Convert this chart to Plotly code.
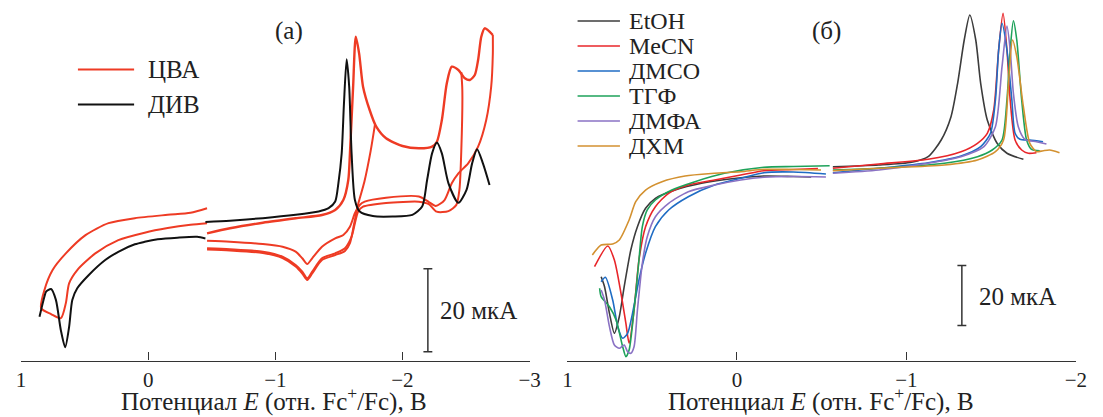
import plotly.graph_objects as go

W, H = 1103, 417

# ---------------- Panel (а): ЦВА / ДИВ ----------------
dpv_low_E = [0.855, 0.816, 0.803, 0.764, 0.726, 0.687, 0.653, 0.622, 0.597, 0.558, 0.467, 0.338,
             0.235, 0.105, 0.028, -0.075, -0.230, -0.385, -0.450]
dpv_low_I = [10.55, 15.4, 16.6, 17.23, 14.6, 7.3, 3.18, 8.1, 14.58, 17.4, 20.6, 24.2,
             26.2, 28.0, 28.6, 29.2, 29.6, 29.8, 29.4]

dpv_high_E = [-0.450, -0.643, -0.902, -1.160, -1.341, -1.419, -1.471, -1.496, -1.522, -1.540, -1.561,
              -1.581, -1.600, -1.626, -1.664, -1.767, -1.922, -2.078, -2.155, -2.194, -2.233, -2.271,
              -2.310, -2.362, -2.440, -2.504, -2.548, -2.587, -2.633, -2.685]
dpv_high_I = [33.4, 33.7, 34.3, 35.1, 35.9, 36.7, 38.3, 42.7, 49.9, 62.0, 72.6,
              66.0, 49.9, 38.7, 35.9, 34.8, 34.7, 35.1, 37.1, 43.5, 49.9, 52.5,
              49.9, 42.7, 38.0, 41.1, 47.5, 50.9, 47.5, 42.3]

cv_low_E = [-0.463, -0.333, -0.153, 0.105, 0.312, 0.493, 0.648, 0.752, 0.816, 0.842, 0.764, 0.687,
            0.648, 0.622, 0.558, 0.416, 0.235, 0.028, -0.153, -0.333, -0.463]
cv_low_I = [36.7, 35.6, 35.1, 34.3, 33.1, 30.2, 25.8, 21.8, 17.0, 12.6, 11.2, 10.2,
            13.8, 18.6, 21.8, 25.8, 29.0, 30.8, 31.9, 32.7, 33.1]

cv_fwd_E = [-0.463, -0.643, -0.902, -1.160, -1.367, -1.471, -1.535, -1.574, -1.587, -1.612, -1.633,
            -1.659, -1.690, -1.742, -1.794, -1.871, -2.0, -2.129, -2.233, -2.271, -2.310, -2.349,
            -2.388, -2.440, -2.491, -2.530, -2.569, -2.595, -2.620, -2.647, -2.711]
cv_fwd_I = [30.65, 31.86, 33.2, 34.27, 35.06, 36.27, 38.67, 43.5, 49.93, 65.98, 78.02,
            74.02, 65.98, 60.36, 56.34, 53.54, 51.69, 51.13, 51.52, 52.72, 57.95, 66.8,
            70.8, 70.0, 68.0, 67.6, 68.8, 72.4, 78.0, 80.05, 78.43]

cv_rev3_E = [-2.711, -2.711, -2.698, -2.659, -2.595, -2.517, -2.440, -2.388, -2.331, -2.262, -2.208,
             -2.129, -1.871, -1.703, -1.664, -1.626, -1.587, -1.535, -1.471, -1.367, -1.290, -1.251,
             -1.212, -1.160, -1.057, -0.902, -0.643, -0.463]
cv_rev3_I = [78.43, 74.0, 65.98, 57.95, 51.52, 47.52, 45.1, 42.7, 38.67, 37.23, 38.19,
             39.52, 39.23, 38.27, 37.47, 35.47, 32.24, 30.24, 29.45, 27.42, 24.63, 23.25,
             24.63, 26.22, 27.42, 28.07, 28.63, 28.87]

cv_rev2_E = [-2.463, -2.471, -2.463, -2.448, -2.424, -2.362, -2.269, -2.207, -2.129, -1.871, -1.690,
             -1.651, -1.626, -1.600, -1.548, -1.471, -1.367, -1.290, -1.251, -1.212, -1.160, -1.057,
             -0.902, -0.643, -0.463]
cv_rev2_I = [69.5, 65.2, 50.7, 41.1, 37.5, 36.0, 35.86, 37.7, 38.27, 37.95, 37.06,
             35.86, 33.06, 29.83, 27.04, 25.83, 24.63, 21.4, 19.81, 21.4, 23.01, 25.01,
             26.22, 26.8, 27.04]

cv_rev1_E = [-1.783, -1.750, -1.700, -1.650, -1.618, -1.587, -1.548, -1.471, -1.367, -1.290, -1.251,
             -1.212, -1.160, -1.057, -0.902, -0.643, -0.463]
cv_rev1_I = [56.7, 50.5, 43.0, 37.5, 32.65, 28.3, 26.4, 25.4, 24.2, 20.96, 19.4,
             20.96, 22.65, 24.7, 25.9, 26.5, 26.75]

# ---------------- Panel (б): solvents ----------------
solvents = ["EtOH", "MeCN", "ДМСО", "ТГФ", "ДМФА", "ДХМ"]
solvent_colors = ["#3c3c3c", "#e8262a", "#1f6cc4", "#1ea25a", "#8a72c4", "#d39130"]

etoh_low_E = [0.801, 0.781, 0.752, 0.723, 0.694, 0.665, 0.626, 0.587, 0.539, 0.481, 0.365, 0.209,
              0.055, -0.159, -0.333, -0.438]
etoh_low_I = [27.93, 24.6, 15.73, 9.07, 14.6, 24.6, 36.83, 44.6, 50.73, 54.07, 56.83, 59.07,
              60.4, 61.5, 61.33, 61.17]
etoh_high_E = [-0.566, -0.837, -1.031, -1.128, -1.205, -1.263, -1.302, -1.341, -1.374, -1.409, -1.438,
               -1.477, -1.535, -1.593, -1.690]
etoh_high_I = [64.6, 65.17, 66.07, 67.93, 73.5, 81.27, 92.4, 106.83, 115.17, 106.83, 92.4,
               80.17, 72.4, 69.07, 67.07]

mecn_low_E = [0.840, 0.762, 0.723, 0.684, 0.655, 0.636, 0.607, 0.578, 0.539, 0.481, 0.403, 0.287,
              0.132, -0.023, -0.159, -0.333, -0.478]
mecn_low_I = [31.27, 38.17, 33.5, 22.4, 12.4, 5.73, 16.83, 33.5, 44.6, 51.27, 55.73, 58.5,
              60.17, 61.83, 63.27, 63.67, 64.0]
mecn_high_E = [-0.566, -0.837, -1.128, -1.322, -1.419, -1.477, -1.515, -1.544, -1.570, -1.593, -1.612,
               -1.641, -1.680, -1.719, -1.767]
mecn_high_I = [64.07, 65.5, 67.07, 69.6, 72.4, 75.73, 83.5, 103.5, 115.73, 103.5, 86.83,
               73.5, 70.17, 69.07, 69.27]

dmso_low_E = [0.801, 0.776, 0.733, 0.703, 0.674, 0.645, 0.616, 0.578, 0.539, 0.481, 0.403, 0.287,
              0.132, -0.023, -0.159, -0.333, -0.525]
dmso_low_I = [26.27, 27.73, 20.17, 11.27, 7.4, 9.07, 15.73, 26.83, 35.73, 44.6, 50.17, 54.6,
              58.5, 60.73, 62.6, 62.83, 62.17]
dmso_high_E = [-0.566, -0.837, -1.128, -1.322, -1.438, -1.496, -1.525, -1.544, -1.564, -1.593, -1.622,
               -1.641, -1.670, -1.728, -1.806]
dmso_high_I = [62.6, 64.07, 65.93, 68.17, 71.27, 75.73, 86.83, 103.5, 112.4, 103.5, 86.83,
               75.73, 73.73, 73.5, 72.93]

thf_low_E = [0.810, 0.801, 0.752, 0.713, 0.674, 0.655, 0.636, 0.607, 0.578, 0.558, 0.529, 0.481,
             0.384, 0.248, 0.074, -0.159, -0.333, -0.547]
thf_low_I = [24.07, 21.27, 17.93, 13.5, 4.6, 1.27, 3.5, 16.83, 33.5, 44.6, 50.17, 53.5,
             56.83, 59.6, 62.4, 64.4, 64.67, 64.93]
thf_high_E = [-0.566, -0.837, -1.224, -1.419, -1.506, -1.564, -1.593, -1.612, -1.631, -1.651, -1.680,
              -1.709, -1.738, -1.787]
thf_high_I = [63.5, 64.07, 65.73, 67.93, 70.17, 73.5, 86.83, 103.5, 113.27, 106.83, 86.83,
              73.5, 70.4, 69.93]

dmf_low_E = [0.801, 0.781, 0.752, 0.723, 0.694, 0.665, 0.645, 0.626, 0.607, 0.587, 0.558, 0.529,
             0.481, 0.403, 0.287, 0.132, -0.023, -0.159, -0.333, -0.525]
dmf_low_I = [23.5, 20.17, 11.27, 5.17, 4.07, 5.17, 2.93, 2.4, 4.6, 16.83, 32.4, 41.27,
             47.93, 52.4, 56.27, 58.5, 60.17, 61.07, 61.33, 61.17]
dmf_high_E = [-0.566, -0.837, -1.128, -1.322, -1.457, -1.525, -1.564, -1.593, -1.612, -1.631, -1.660,
              -1.699, -1.767, -1.826]
dmf_high_I = [62.4, 63.5, 65.73, 67.93, 71.27, 77.93, 97.93, 111.5, 103.5, 89.07, 77.93,
              73.73, 72.93, 72.17]

dcm_low_E = [0.853, 0.801, 0.733, 0.694, 0.636, 0.597, 0.539, 0.442, 0.306, 0.132, -0.023, -0.159,
             -0.333, -0.496]
dcm_low_I = [35.17, 38.5, 38.83, 40.17, 46.83, 52.93, 56.83, 59.6, 61.5, 62.4, 62.93, 63.73,
             63.67, 63.5]
dcm_high_E = [-0.566, -0.837, -1.224, -1.419, -1.525, -1.573, -1.602, -1.626, -1.651, -1.690, -1.728,
              -1.767, -1.806, -1.845, -1.903]
dcm_high_I = [63.27, 64.07, 65.17, 66.83, 69.6, 73.5, 92.4, 106.83, 101.27, 84.6, 72.4,
              69.6, 69.93, 70.17, 69.27]

solvent_low = [(etoh_low_E, etoh_low_I), (mecn_low_E, mecn_low_I), (dmso_low_E, dmso_low_I),
               (thf_low_E, thf_low_I), (dmf_low_E, dmf_low_I), (dcm_low_E, dcm_low_I)]
solvent_high = [(etoh_high_E, etoh_high_I), (mecn_high_E, mecn_high_I), (dmso_high_E, dmso_high_I),
                (thf_high_E, thf_high_I), (dmf_high_E, dmf_high_I), (dcm_high_E, dcm_high_I)]

# scale bars (20 мкА)
scale_a_E, scale_a_I = -2.20, [2.1, 22.1]
scale_b_E, scale_b_I = -1.327, [11.7, 31.7]

tick_a = [1, 0, -1, -2, -3]
tick_b = [1, 0, -1, -2]

RED = "#ee3b24"
BLACK = "#111111"
SERIF = "Liberation Serif"
TXT = "#222222"

fig = go.Figure()

def add(x, y, color, width, name, xa="x", ya="y", smooth=0.7):
    fig.add_trace(go.Scatter(x=x, y=y, mode="lines", name=name, showlegend=False,
                             line=dict(color=color, width=width, shape="spline", smoothing=smooth),
                             xaxis=xa, yaxis=ya, hoverinfo="skip"))

# panel a
add(cv_low_E, cv_low_I, RED, 2.0, "ЦВА")
add(cv_fwd_E, cv_fwd_I, RED, 2.4, "ЦВА")
add(cv_rev1_E, cv_rev1_I, RED, 2.0, "ЦВА")
add(cv_rev2_E, cv_rev2_I, RED, 2.0, "ЦВА")
add(cv_rev3_E, cv_rev3_I, RED, 2.0, "ЦВА")
add(dpv_low_E, dpv_low_I, BLACK, 2.0, "ДИВ")
add(dpv_high_E, dpv_high_I, BLACK, 2.0, "ДИВ")

# panel b
for name, col, lo, hi in zip(solvents, solvent_colors, solvent_low, solvent_high):
    add(lo[0], lo[1], col, 1.6, name, "x2", "y2")
    add(hi[0], hi[1], col, 1.6, name, "x2", "y2")

# scale bars
cap = 0.035
for (e, ii, xa, ya, c) in [(scale_a_E, scale_a_I, "x", "y", cap * 1.0), (scale_b_E, scale_b_I, "x2", "y2", cap * 0.75)]:
    fig.add_trace(go.Scatter(x=[e, e, None, e - c, e + c, None, e - c, e + c],
                             y=[ii[0], ii[1], None, ii[0], ii[0], None, ii[1], ii[1]],
                             mode="lines", line=dict(color="#333333", width=1.5),
                             xaxis=xa, yaxis=ya, showlegend=False, hoverinfo="skip"))

def px(x):
    return x / W

def py(y):
    return 1 - y / H

ydom = [py(360.5), py(2)]
axis_font = dict(family=SERIF, size=21, color=TXT)
title_text = "Потенциал <i>E</i> (отн. Fc<sup>+</sup>/Fc), В"

common_x = dict(showline=True, linecolor="#333333", linewidth=1.3, ticks="inside", ticklen=8,
                tickwidth=1.3, tickcolor="#333333", showgrid=False, zeroline=False,
                tickfont=axis_font)

xa_dom = [px(16.3), px(532.3)]
xb_dom = [px(570.7), px(1086.7)]

fig.update_layout(
    width=W, height=H, margin=dict(l=0, r=0, t=0, b=0),
    paper_bgcolor="white", plot_bgcolor="white",
    xaxis=dict(domain=xa_dom, range=[1, -3], tickvals=tick_a, anchor="y", **common_x),
    yaxis=dict(domain=ydom, range=[0, 358.5 / 4.15], visible=False, anchor="x"),
    xaxis2=dict(domain=xb_dom, range=[1, -2], tickvals=tick_b, anchor="y2", **common_x),
    yaxis2=dict(domain=ydom, range=[0, 358.5 / 3.0], visible=False, anchor="x2"),
    font=dict(family=SERIF),
)

ann = []
shapes = []
# axis titles
for dom in (xa_dom, xb_dom):
    ann.append(dict(text=title_text, x=(dom[0] + dom[1]) / 2 - px(1), y=py(416.5), xref="paper", yref="paper",
                    showarrow=False, xanchor="center", yanchor="bottom", borderpad=0,
                    font=dict(family=SERIF, size=25, color=TXT)))
# panel labels
for lbl, xx in [("(а)", 288), ("(б)", 834)]:
    ann.append(dict(text=lbl, x=px(xx), y=py(31), xref="paper", yref="paper", showarrow=False,
                    xanchor="center", yanchor="middle", font=dict(family=SERIF, size=25, color=TXT)))
# scale labels
ann.append(dict(text="20 мкА", x=scale_a_E - 0.08, y=12.1, xref="x", yref="y", xanchor="left",
                yanchor="middle", showarrow=False, font=dict(family=SERIF, size=25, color=TXT)))
ann.append(dict(text="20 мкА", x=scale_b_E - 0.09, y=21.5, xref="x2", yref="y2", xanchor="left",
                yanchor="middle", showarrow=False, font=dict(family=SERIF, size=25, color=TXT)))

# legend (а)
for lbl, col, yy in [("ЦВА", RED, 69.5), ("ДИВ", BLACK, 104.5)]:
    shapes.append(dict(type="line", xref="paper", yref="paper", x0=px(74), x1=px(131), y0=py(yy), y1=py(yy),
                       line=dict(color=col, width=2)))
    ann.append(dict(text=lbl, x=px(143), y=py(yy), xref="paper", yref="paper", xanchor="left",
                    yanchor="middle", showarrow=False, font=dict(family=SERIF, size=25, color=TXT)))
# legend (б)
for i, (lbl, col) in enumerate(zip(solvents, solvent_colors)):
    yy = 21 + 25 * i
    shapes.append(dict(type="line", xref="paper", yref="paper", x0=px(581), x1=px(624), y0=py(yy), y1=py(yy),
                       line=dict(color=col, width=1.6)))
    ann.append(dict(text=lbl, x=px(631), y=py(yy), xref="paper", yref="paper", xanchor="left",
                    yanchor="middle", showarrow=False, font=dict(family=SERIF, size=24, color=TXT)))

fig.update_layout(annotations=ann, shapes=shapes)
fig.write_html("out.html")
